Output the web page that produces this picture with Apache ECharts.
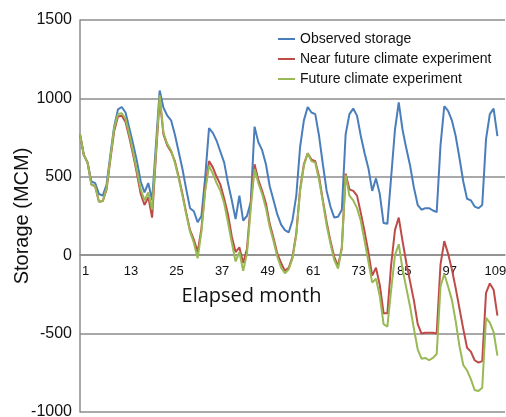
<!DOCTYPE html>
<html>
<head>
<meta charset="utf-8">
<script src="https://cdn.jsdelivr.net/npm/echarts@6/dist/echarts.min.js"></script>
<style>
  html, body { margin: 0; padding: 0; background: #fff; }
  #chart { width: 506px; height: 417px; }
</style>
</head>
<body>
<div id="chart"></div>
<script>
// elapsed months 1..111
var months = []
for (var m = 1; m <= 111; m++) months.push(m)

var tickMonths = [1, 13, 25, 37, 49, 61, 73, 85, 97, 109]

var observed = [
  770, 640, 590, 470, 460, 390, 380, 450, 640, 820,
  930, 945, 910, 810, 710, 600, 470, 400, 460, 350,
  700, 1050, 940, 890, 860, 770, 660, 550, 420, 300,
  280, 210, 250, 500, 810, 780, 730, 660, 590, 460,
  350, 230, 380, 220, 250, 340, 820, 720, 670, 580,
  440, 350, 260, 195, 160, 145, 225, 380, 690, 860,
  945, 910, 900, 760, 580, 410, 310, 240, 245, 290,
  770, 900, 935, 890, 760, 650, 555, 410, 490, 390,
  205, 200, 500, 800, 975, 800, 680, 570, 430, 320,
  290, 300, 300, 285, 275, 700, 950, 920, 860, 760,
  620, 470, 360, 350, 310, 300, 320, 740, 900, 935,
  760
]

var nearFuture = [
  770, 640, 590, 450, 440, 340, 345, 420, 610, 790,
  885, 890, 850, 750, 640, 520, 390, 320, 370, 240,
  630, 1000, 770, 700, 660, 600, 500, 390, 270, 160,
  100, 20, 170, 430, 600, 560, 500, 450, 360, 260,
  120, 20, 50, -50, 40, 330, 580, 480, 410, 330,
  200, 110, 10, -50, -100, -80, -10, 140, 420, 580,
  650, 610, 600, 500, 350, 210, 90, -10, -70, 50,
  520, 420, 410, 380, 270, 150, 20, -130, -80, -190,
  -370, -370, -60, 160, 240, 90, -50, -170, -290, -440,
  -500, -495, -495, -495, -500, -60, 90, 10, -90, -210,
  -340, -470, -590, -615, -670, -685, -675, -240, -180, -220,
  -385
]

var future = [
  770, 640, 590, 450, 440, 340, 345, 430, 620, 810,
  900, 905, 870, 770, 660, 540, 420, 350, 400, 290,
  650, 1020, 780, 710, 670, 590, 490, 380, 260, 150,
  80, -20, 150, 410, 570, 520, 460, 410, 330, 210,
  80, -40, 20, -100, 10, 300, 550, 460, 390, 300,
  180, 90, -10, -80, -115, -90, -20, 130, 410, 570,
  650, 600, 590, 480, 340, 190, 75, -30, -85, 40,
  510, 380, 350, 300, 220, 90, -40, -175, -150, -260,
  -440, -455, -220, 0, 70, -90, -210, -330, -470, -600,
  -660, -655, -670, -655, -630, -200, -120, -200, -285, -420,
  -580, -700, -735, -790, -860, -866, -845, -400, -430, -490,
  -640
]

var seriesNames = ['Observed storage', 'Near future climate experiment', 'Future climate experiment']
var seriesColors = ['#4a7ebb', '#be4b48', '#98b954']

function pairs(values) {
  return months.map(function (m, i) { return [m, values[i]] })
}

var gridColor = '#8c8c8c'
var gridTop = 20
var gridBottom = 5
var plotHeight = 417 - gridTop - gridBottom
// the month axis sits on the zero line, 1000 of 2500 units above the plot bottom
var zeroOffset = -plotHeight * 1000 / 2500

var chart = echarts.init(document.getElementById('chart'))

chart.setOption({
  animation: false,
  grid: { left: 80, right: 1, top: gridTop, bottom: gridBottom, containLabel: false, outerBoundsMode: 'none' },
  legend: {
    orient: 'vertical',
    left: 278,
    top: 32,
    padding: 0,
    icon: 'rect',
    itemWidth: 17,
    itemHeight: 2,
    itemGap: 6,
    textStyle: { fontSize: 14, lineHeight: 14, color: '#111', fontFamily: 'Liberation Sans, Arial, sans-serif' },
    data: seriesNames
  },
  xAxis: {
    type: 'value',
    position: 'bottom',
    offset: zeroOffset,
    min: 1,
    max: 113,
    name: 'Elapsed month',
    nameLocation: 'middle',
    nameGap: 31,
    nameMoveOverlap: false,
    nameTextStyle: {
      fontSize: 20,
      color: '#111',
      fontFamily: 'Open Sans, Lato, sans-serif',
      padding: [0, 82, 0, 0]
    },
    axisLine: { onZero: false, lineStyle: { color: gridColor, width: 1.5 } },
    axisTick: { show: false },
    splitLine: { show: false },
    axisLabel: {
      customValues: tickMonths,
      align: 'center',
      padding: [0, 0, 0, 11],
      margin: 10,
      fontSize: 13,
      color: '#111',
      fontFamily: 'Liberation Sans Narrow, Liberation Sans, sans-serif'
    }
  },
  yAxis: {
    type: 'value',
    min: -1000,
    max: 1500,
    interval: 500,
    name: 'Storage (MCM)',
    nameLocation: 'middle',
    nameGap: 48,
    nameMoveOverlap: false,
    nameTextStyle: { fontSize: 20, color: '#111', fontFamily: 'Liberation Sans, Arial, sans-serif' },
    axisLine: { show: true, onZero: false, lineStyle: { color: gridColor, width: 1.5 } },
    axisTick: { show: false },
    splitLine: { show: true, lineStyle: { color: gridColor, width: 1.5 } },
    axisLabel: {
      fontSize: 16,
      margin: 8,
      color: '#111',
      fontFamily: 'Liberation Sans, Arial, sans-serif',
      formatter: function (v) { return String(v) }
    }
  },
  series: [
    { name: seriesNames[0], type: 'line', data: pairs(observed) },
    { name: seriesNames[1], type: 'line', data: pairs(nearFuture) },
    { name: seriesNames[2], type: 'line', data: pairs(future) }
  ].map(function (s, i) {
    s.symbol = 'none'
    s.color = seriesColors[i]
    s.lineStyle = { width: 2, color: seriesColors[i] }
    return s
  })
})
</script>
</body>
</html>
